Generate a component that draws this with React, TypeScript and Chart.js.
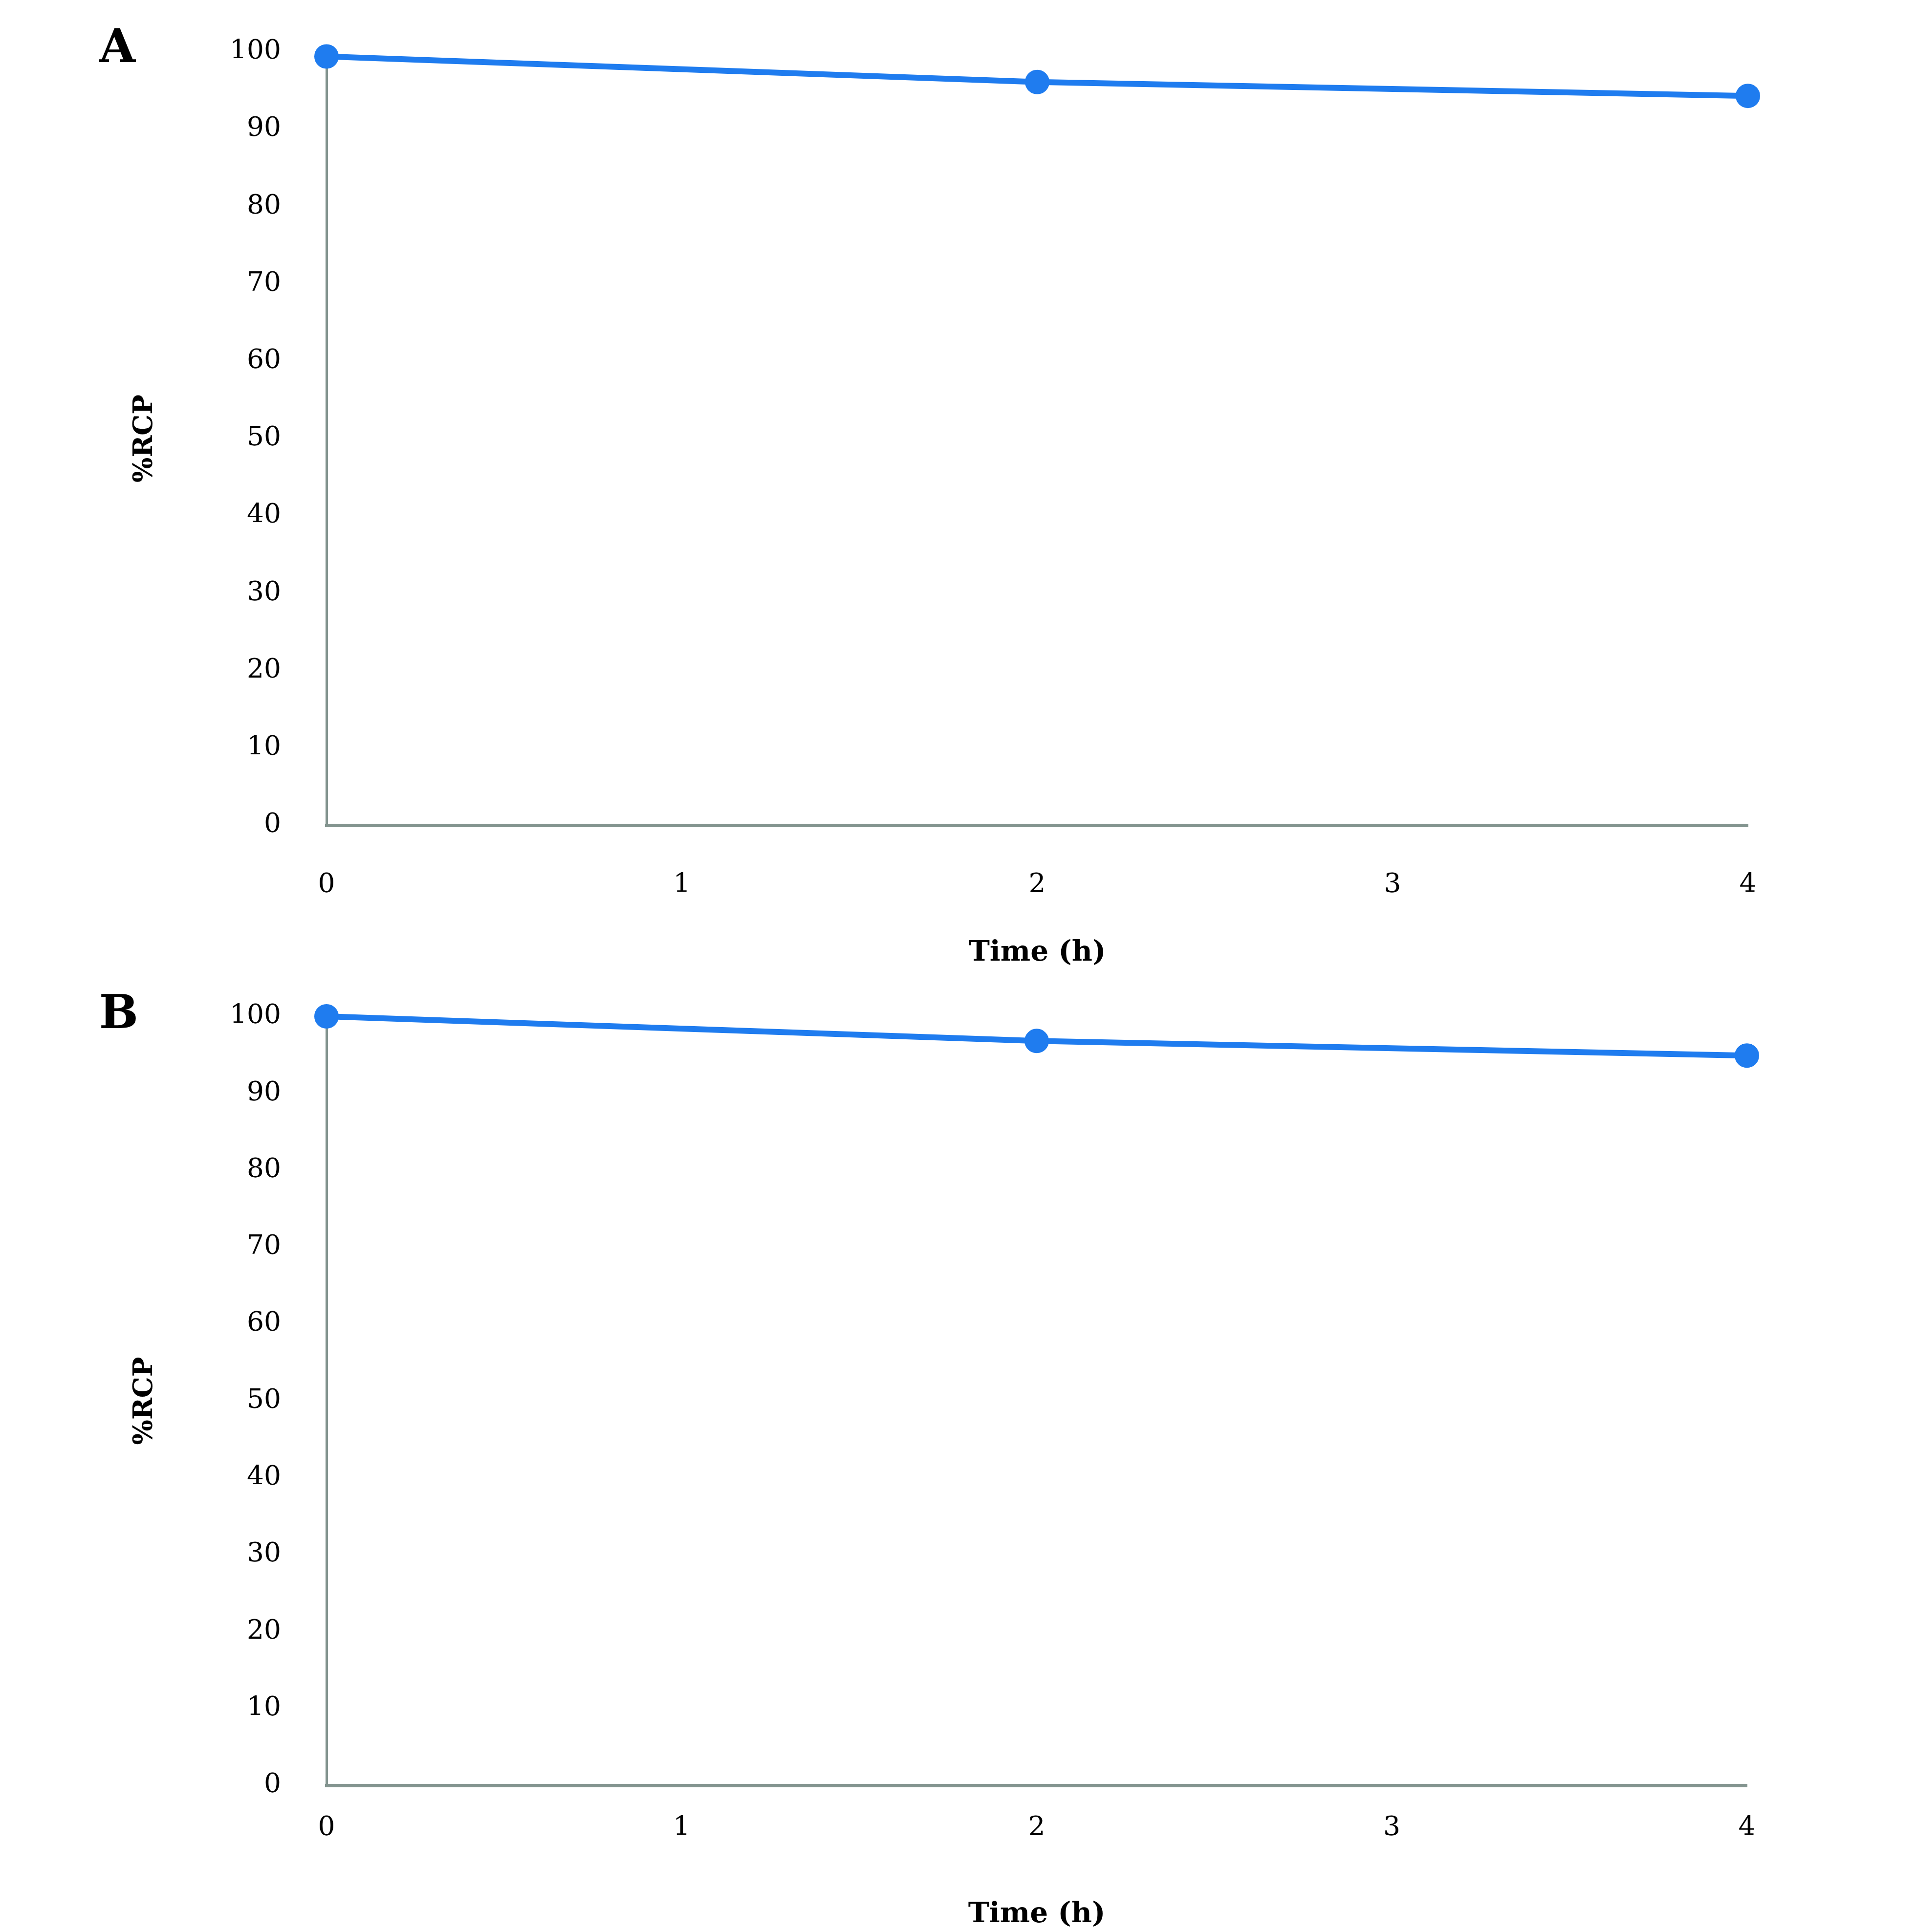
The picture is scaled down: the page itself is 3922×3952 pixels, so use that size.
import React, { useEffect, useRef } from "react";
import { Chart, registerables } from "chart.js";

Chart.register(...registerables);

// ---- data ----
const timeHours = [0, 2, 4];
const rcpPanelA = [99.4, 96.1, 94.3];
const rcpPanelB = [100, 96.8, 94.9];
const panelLabels = ["A", "B"];
const xAxisTitle = "Time (h)";
const yAxisTitle = "%RCP";
const xMin = 0;
const xMax = 4;
const xStep = 1;
const yMin = 0;
const yMax = 100;
const yStep = 10;

const BLUE = "#1f7cef";
const AXIS = "#83948f";
const SERIF = '"DejaVu Serif", serif';

const panelLabelPlugin = {
  id: "panelLabel",
  afterDraw(chart: any, _args: any, opts: any) {
    const ctx = chart.ctx;
    ctx.save();
    ctx.font = `bold 95px ${SERIF}`;
    ctx.fillStyle = "#000";
    ctx.textAlign = "center";
    ctx.textBaseline = "middle";
    ctx.fillText(opts.text, opts.x, opts.y);
    ctx.restore();
  },
};

type PanelProps = {
  top: number;
  height: number;
  values: number[];
  label: string;
  padTop: number;
  padRight: number;
  padBottom: number;
  xHeight: number;
  xTickPad: number;
  labelX: number;
  labelY: number;
};

function Panel(p: PanelProps) {
  const ref = useRef<HTMLCanvasElement | null>(null);
  useEffect(() => {
    if (!ref.current) return;
    const chart = new Chart(ref.current, {
      type: "line",
      data: {
        datasets: [
          {
            data: timeHours.map((t, i) => ({ x: t, y: p.values[i] })),
            borderColor: BLUE,
            backgroundColor: BLUE,
            borderWidth: 12,
            pointRadius: 24,
            pointBorderWidth: 2,
            pointBackgroundColor: BLUE,
            pointBorderColor: BLUE,
            tension: 0,
            clip: false as any,
          },
        ],
      },
      options: {
        responsive: false,
        animation: false,
        devicePixelRatio: 1,
        layout: {
          padding: { top: p.padTop, right: p.padRight, bottom: p.padBottom, left: 0 },
        },
        plugins: {
          legend: { display: false },
          tooltip: { enabled: false },
          panelLabel: { text: p.label, x: p.labelX, y: p.labelY },
        } as any,
        scales: {
          x: {
            type: "linear",
            min: xMin,
            max: xMax,
            grid: { display: false, drawTicks: false },
            border: { display: true, color: AXIS, width: 7 },
            ticks: {
              stepSize: xStep,
              padding: p.xTickPad,
              color: "#000",
              font: { family: SERIF, size: 55 },
              maxRotation: 0,
            },
            title: {
              display: true,
              text: xAxisTitle,
              color: "#000",
              font: { family: SERIF, size: 58, weight: "bold" },
              padding: { top: 0, bottom: 0 },
            },
            afterFit(scale: any) {
              scale.height = p.xHeight;
              scale.paddingLeft = 0;
              scale.paddingRight = 0;
            },
          },
          y: {
            type: "linear",
            min: yMin,
            max: yMax,
            grid: { display: false, drawTicks: false },
            border: { display: true, color: AXIS, width: 5 },
            ticks: {
              stepSize: yStep,
              padding: 93,
              color: "#000",
              font: { family: SERIF, size: 55 },
            },
            title: {
              display: true,
              text: yAxisTitle,
              color: "#000",
              font: { family: SERIF, size: 54, weight: "bold" },
              padding: { top: 265, bottom: 0 },
            },
            afterFit(scale: any) {
              scale.width = 668;
              scale.paddingTop = 0;
              scale.paddingBottom = 0;
            },
          },
        },
      } as any,
      plugins: [panelLabelPlugin as any],
    });
    return () => chart.destroy();
  }, []);
  return (
    <canvas
      ref={ref}
      width={3922}
      height={p.height}
      style={{ position: "absolute", left: 0, top: p.top, width: 3922, height: p.height }}
    />
  );
}

export default function App() {
  return (
    <div style={{ position: "absolute", left: 0, top: 0, width: 3922, height: 3952, background: "#fff" }}>
      <Panel
        top={0}
        height={2000}
        values={rcpPanelA}
        label={panelLabels[0]}
        padTop={106}
        padRight={346}
        padBottom={15}
        xHeight={297}
        xTickPad={90}
        labelX={240}
        labelY={102}
      />
      <Panel
        top={1976}
        height={1976}
        values={rcpPanelB}
        label={panelLabels[1]}
        padTop={103}
        padRight={348}
        padBottom={0}
        xHeight={300}
        xTickPad={55}
        labelX={243}
        labelY={102}
      />
    </div>
  );
}
